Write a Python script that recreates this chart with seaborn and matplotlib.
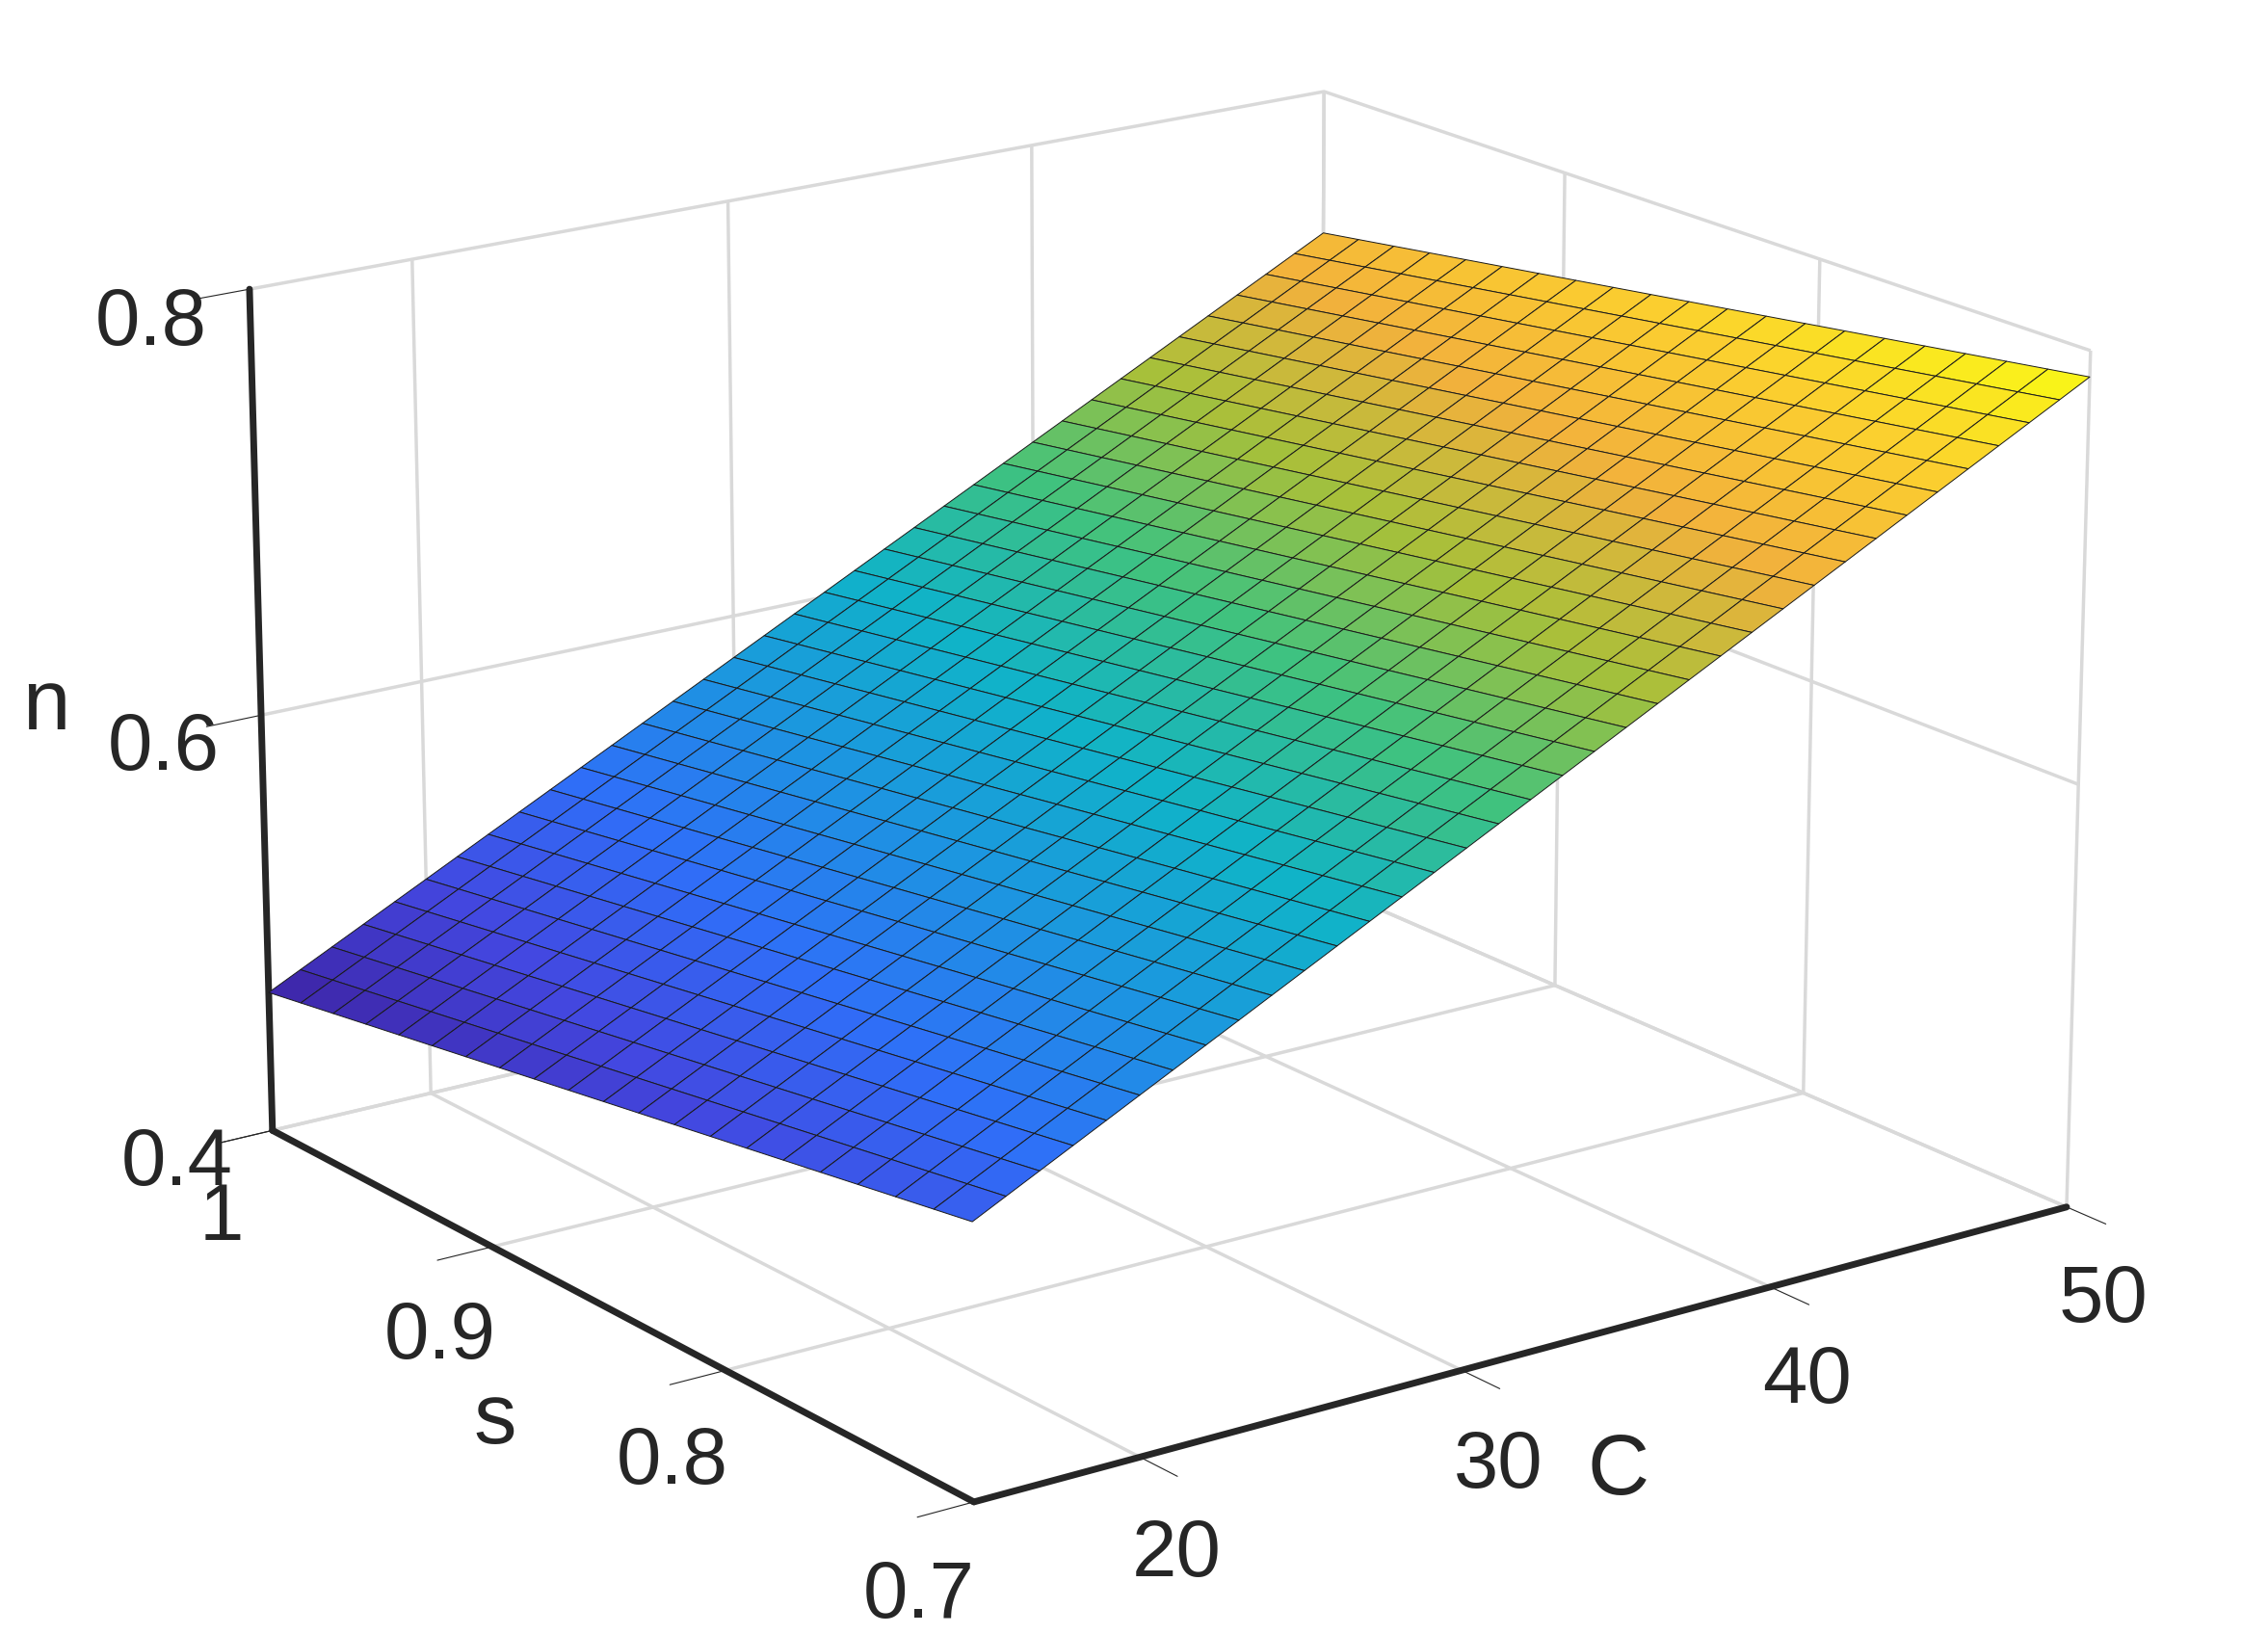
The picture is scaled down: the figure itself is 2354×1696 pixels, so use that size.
import numpy as np
import matplotlib
matplotlib.use("Agg")
import matplotlib.pyplot as plt
import seaborn as sns
from matplotlib.colors import LinearSegmentedColormap

sns.set_style("white")
plt.rcParams['font.family'] = ['Liberation Sans', 'DejaVu Sans']

# data
C_vals = np.arange(15, 51, 1.0)
s_vals = np.linspace(0.7, 1.0, 21)
n_C_at_s1 = 0.467 + (0.73 - 0.467) * (C_vals - 15) / 35   # n along C at s=1
n_s_offset = 0.058 * (1.0 - s_vals) / 0.3                   # added by lower s
C_ticks = [20, 30, 40, 50]
s_ticks = [0.7, 0.8, 0.9, 1]
n_ticks = [0.4, 0.6, 0.8]

CC, SS = np.meshgrid(C_vals, s_vals)
NN = n_C_at_s1[None, :] + n_s_offset[:, None]

parula = LinearSegmentedColormap.from_list("parula", [
    "#3e26a8", "#4347e0", "#2f6ff8", "#1c96e0", "#10b3c8",
    "#3fc27f", "#a7c03a", "#f2b13c", "#fbcf2f", "#f9fb14"])

fig = plt.figure(figsize=(23.54, 16.96), dpi=100)
ax = fig.add_axes([-0.09, -0.08, 1.18, 1.21], projection='3d')
norm = plt.Normalize(NN.min(), NN.max())
ax.plot_surface(CC, SS, NN, facecolors=parula(norm(NN)), edgecolor='#1a1a1a',
                linewidth=0.7, shade=False, rstride=1, cstride=1)
ax.set_xlim(15, 50); ax.set_ylim(0.7, 1.0); ax.set_zlim(0.4, 0.8)
ax.set_xticks(C_ticks); ax.set_yticks(s_ticks); ax.set_zticks(n_ticks)
ax.set_yticklabels(['0.7', '0.8', '0.9', '1'])
ax.set_xlabel('C', fontsize=64, labelpad=55)
ax.set_ylabel('s', fontsize=64, labelpad=55)
ax.set_zlabel('n', fontsize=64, labelpad=72)
ax.tick_params(labelsize=60, pad=28)
ax.tick_params(axis='z', pad=34)
for a in (ax.xaxis, ax.yaxis, ax.zaxis):
    a.set_pane_color((1, 1, 1, 0))
    a._axinfo['grid']['color'] = (0.85, 0.85, 0.85, 1)
    a._axinfo['grid']['linewidth'] = 2.5
    a._axinfo['tick']['outward_factor'] = 0.0
    a._axinfo['tick']['inward_factor'] = 0.6
    a.line.set_linewidth(5)
    a.line.set_color('#262626')
ax.view_init(elev=18, azim=-126)
ax.set_box_aspect((1.2, 1.12, 0.8))
fig.savefig("out.png", dpi=100)
